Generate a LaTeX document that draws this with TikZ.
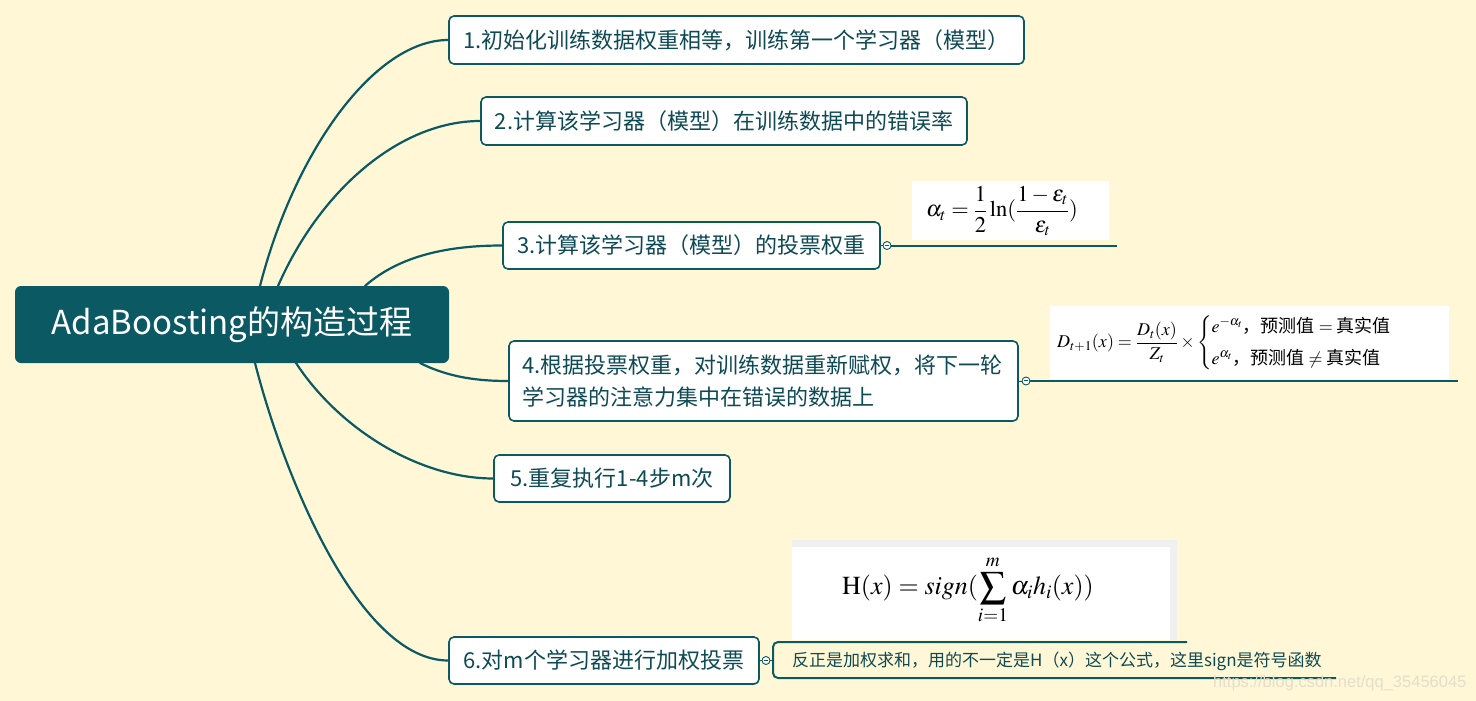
\documentclass[tikz,border=0pt]{standalone}
\usepackage{amsmath}
\usepackage{mathptmx}
\usepackage[no-math]{fontspec}
\setmainfont{Noto Sans CJK SC}
\newfontfamily\wmfont{Liberation Sans}
\usetikzlibrary{calc}
\definecolor{bgc}{HTML}{FFF7D6}
\definecolor{teal}{HTML}{0B5963}
\definecolor{tx}{HTML}{0E4A55}
\definecolor{wm}{HTML}{E4DECB}
\pgfdeclarelayer{bgl}
\pgfdeclarelayer{edges}
\pgfsetlayers{bgl,edges,main}
\tikzset{
  box/.style={draw=teal, line width=1.6pt, rounded corners=5pt, fill=white, text=tx,
    font=\fontsize{22}{28}\selectfont, inner sep=0pt, align=center},
  branch/.style={draw=teal, line width=2.2pt, line cap=round},
  leaf/.style={draw=teal, line width=2pt},
  knob/.style={circle, draw=teal, line width=0.9pt, fill=white, inner sep=0pt, minimum size=8pt},
  formula/.style={anchor=west, inner sep=0pt, text=black},
}
\newcommand{\minusmark}{\textcolor{teal}{\rule[0.3pt]{4pt}{0.8pt}}}
\begin{document}
\begin{tikzpicture}[x=1pt,y=-1pt]
\begin{pgfonlayer}{bgl}
\fill[bgc] (0,0) rectangle (1476,701);
\end{pgfonlayer}
\useasboundingbox (0,0) rectangle (1476,701);

% root
\node[fill=teal, rounded corners=6pt, minimum width=434pt, minimum height=77pt, inner sep=0pt,
  text=white, font=\fontsize{33}{38}\selectfont] (root) at (232,324.5) {AdaBoosting的构造过程};

% step boxes
\node[box, minimum width=575pt, minimum height=48pt] (b1) at (736.5,40) {1.初始化训练数据权重相等，训练第一个学习器（模型）};
\node[box, minimum width=486pt, minimum height=48pt] (b2) at (724,121) {2.计算该学习器（模型）在训练数据中的错误率};
\node[box, minimum width=377pt, minimum height=47pt] (b3) at (691.5,245.5) {3.计算该学习器（模型）的投票权重};
\node[box, minimum width=509pt, minimum height=80pt, align=left] (b4) at (763.5,381)
  {\parbox{482pt}{\fontsize{22}{32}\selectfont 4.根据投票权重，对训练数据重新赋权，将下一轮\\学习器的注意力集中在错误的数据上}};
\node[box, minimum width=236pt, minimum height=47pt] (b5) at (612,478.5) {5.重复执行1-4步m次};
\node[box, minimum width=310pt, minimum height=47pt] (b6) at (604,660.5) {6.对m个学习器进行加权投票};

% branch start points on the root
\coordinate (r1) at (260,286);
\coordinate (r2) at (278,286);
\coordinate (r3) at (365,286);
\coordinate (r4) at (420,363);
\coordinate (r5) at (296,363);
\coordinate (r6) at (255,363);

\begin{pgfonlayer}{edges}
\draw[branch] (r1) .. controls (295,150) and (375,40) .. (b1.west);
\draw[branch] (r2) .. controls (320,190) and (400,121) .. (b2.west);
\draw[branch] (r3) .. controls (400,255) and (450,245.5) .. (b3.west);
\draw[branch] (r4) .. controls (450,378) and (480,381) .. (b4.west);
\draw[branch] (r5) .. controls (340,430) and (420,478.5) .. (b5.west);
\draw[branch] (r6) .. controls (285,480) and (360,660.5) .. (b6.west);
\end{pgfonlayer}

% formula 1
\fill[white] (912,181) rectangle (1109,240);
\node[formula] (f1) at (926,211)
  {\fontsize{22.5}{26}\selectfont $\displaystyle \alpha_t=\frac{1}{2}\ln(\frac{1-\varepsilon_t}{\varepsilon_t})$};
\node[knob] (k3) at (887,245.5) {\minusmark};
\coordinate (e3) at (1117,245.5);
\draw[teal, line width=1pt] (b3.east) -- (k3);
\draw[leaf] (k3) -- (e3);

% formula 2
\fill[white] (1050,306) rectangle (1449,379);
\node[formula] (f2) at (1057,343)
  {\fontsize{18}{22}\selectfont $\displaystyle D_{t+1}(x)=\frac{D_t(x)}{Z_t}\times\begin{cases}e^{-\alpha_t}\text{，预测值}=\text{真实值}\\[6pt] e^{\alpha_t}\text{，预测值}\neq\text{真实值}\end{cases}$};
\node[knob] (k4) at (1026,381) {\minusmark};
\coordinate (e4) at (1458,381);
\draw[teal, line width=1pt] (b4.east) -- (k4);
\draw[leaf] (k4) -- (e4);

% formula 3
\fill[black!6] (792,540) rectangle (1177,640);
\fill[white] (792,547) rectangle (1170,640);
\node[formula] (f3) at (842,590)
  {\fontsize{26}{30}\selectfont $\displaystyle \mathrm{H}(x)=\mathit{sign}(\sum_{i=1}^{m}\alpha_i h_i(x))$};

% note under formula 3
\node[knob] (k6) at (766,660.5) {\minusmark};
\node[anchor=west, text=tx, font=\fontsize{17}{20}\selectfont, inner sep=0pt] (note) at (792,661)
  {反正是加权求和，用的不一定是H（x）这个公式，这里sign是符号函数};
\coordinate (n1) at (1187,642);
\coordinate (n2) at (773,642);
\coordinate (n3) at (773,678);
\coordinate (n4) at (1336,678);
\draw[teal, line width=0.9pt] (b6.east) -- (k6);
\draw[teal, line width=0.9pt] (k6) -- (n2 |- k6);
\draw[teal, line width=2pt, rounded corners=5pt] (n1) -- (n2) -- (n3) -- (n4);

% watermark
\node[anchor=west, text=wm, font=\wmfont\fontsize{16.5}{18}\selectfont, inner sep=0pt] (wmk) at (1213,683) {https://blog.csdn.net/qq\_35456045};
\end{tikzpicture}
\end{document}
